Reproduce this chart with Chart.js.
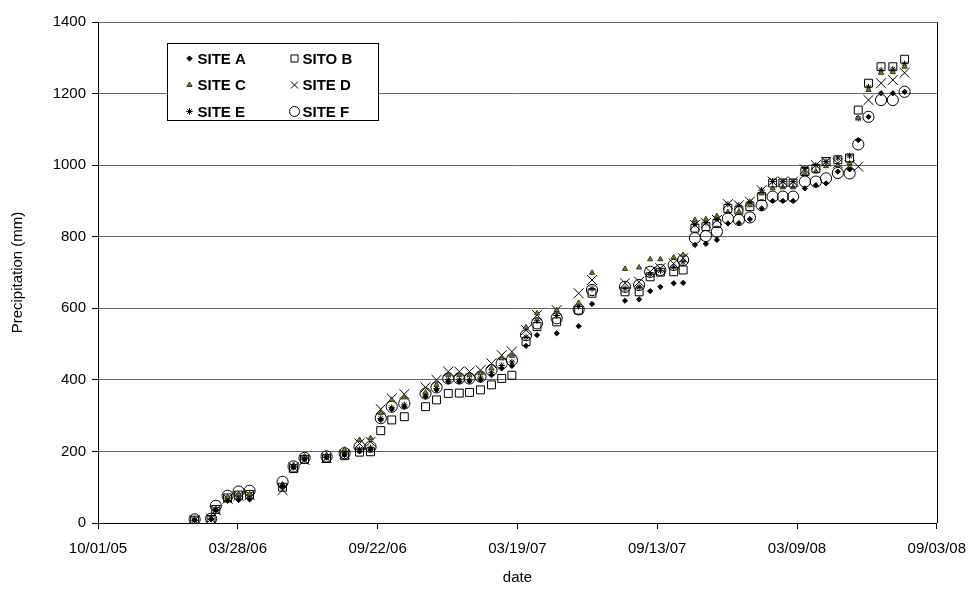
<!DOCTYPE html>
<html>
<head>
<meta charset="utf-8">
<script src="https://cdn.jsdelivr.net/npm/chart.js@4.4.1/dist/chart.umd.min.js"></script>
<style>
  html, body { margin: 0; padding: 0; background: #fff; }
  #wrap { width: 977px; height: 590px; }
</style>
</head>
<body>
<div id="wrap"><canvas id="chart"></canvas></div>
<script>
// sampling dates (MM/DD/YY)
const dates = [
  "02/01/06", "02/22/06", "02/28/06", "03/15/06", "03/29/06", "04/12/06", "05/24/06", "06/07/06",
  "06/21/06", "07/19/06", "08/11/06", "08/30/06", "09/13/06", "09/26/06", "10/10/06", "10/26/06",
  "11/22/06", "12/06/06", "12/21/06", "01/04/07", "01/17/07", "01/31/07", "02/14/07", "02/27/07",
  "03/12/07", "03/30/07", "04/13/07", "05/08/07", "06/05/07", "06/22/07", "08/03/07", "08/21/07",
  "09/04/07", "09/17/07", "10/04/07", "10/16/07", "10/31/07", "11/14/07", "11/28/07", "12/12/07",
  "12/26/07", "01/09/08", "01/24/08", "02/07/08", "02/20/08", "03/04/08", "03/19/08", "04/02/08",
  "04/15/08", "04/30/08", "05/15/08", "05/26/08", "06/08/08", "06/24/08", "07/09/08", "07/24/08"
];

// cumulative precipitation (mm)
const siteA = [8, 10, 36, 62, 64, 66, 104, 155, 178, 183, 190, 200, 205, 288, 318, 325,
  353, 372, 395, 395, 397, 400, 413, 432, 439, 495, 525, 530, 550, 612, 621, 625,
  648, 660, 670, 671, 777, 780, 791, 837, 838, 849, 879, 900, 900, 900, 935, 944,
  949, 982, 988, 1070, 1135, 1201, 1201, 1205];
const siteB = [8, 10, 38, 70, 78, 80, 100, 152, 178, 180, 188, 198, 199, 258, 288, 297,
  325, 344, 362, 363, 365, 372, 386, 404, 413, 507, 549, 562, 595, 642, 646, 646,
  688, 701, 702, 707, 824, 828, 837, 879, 874, 884, 912, 950, 950, 950, 982, 991,
  1010, 1015, 1020, 1154, 1229, 1275, 1275, 1296];
const siteC = [10, 14, 40, 72, 80, 80, 108, 162, 186, 190, 205, 232, 237, 307, 344, 351,
  365, 386, 414, 414, 414, 418, 432, 460, 467, 547, 586, 595, 615, 699, 710, 714,
  737, 737, 742, 749, 847, 849, 858, 869, 870, 888, 921, 935, 938, 938, 977, 982,
  997, 1000, 1005, 1131, 1210, 1258, 1260, 1275];
const siteD = [8, 12, 36, 68, 76, 78, 92, 156, 176, 182, 192, 222, 227, 318, 348, 360,
  379, 400, 423, 423, 423, 427, 446, 469, 479, 539, 581, 595, 642, 679, 670, 674,
  702, 712, 725, 740, 833, 838, 847, 891, 888, 898, 930, 954, 954, 954, 988, 1000,
  1010, 1005, 1000, 996, 1182, 1229, 1238, 1258];
const siteE = [8, 12, 38, 70, 78, 80, 100, 158, 180, 184, 195, 205, 210, 292, 322, 330,
  358, 376, 400, 400, 400, 405, 420, 440, 450, 520, 565, 580, 605, 655, 655, 660,
  695, 705, 715, 730, 835, 840, 850, 891, 888, 898, 930, 954, 954, 954, 991, 1000,
  1010, 1020, 1026, 1131, 1218, 1265, 1268, 1283];
const siteF = [10, 12, 48, 76, 88, 90, 115, 158, 182, 186, 195, 213, 213, 293, 325, 334,
  362, 379, 404, 404, 404, 409, 427, 446, 455, 525, 558, 572, 597, 651, 660, 665,
  702, 707, 721, 735, 796, 802, 814, 851, 847, 854, 888, 912, 912, 912, 954, 954,
  963, 978, 977, 1058, 1135, 1182, 1182, 1205];

const seriesNames = ["SITE A", "SITO B", "SITE C", "SITE D", "SITE E", "SITE F"];

// x axis: days since 10/01/05, ticks every 178 days
const axisStart = "10/01/05";
const axisEnd = "09/03/08";
const tickStep = 178;

function toUTC(s) {
  const [m, d, y] = s.split("/").map(Number);
  return Date.UTC(2000 + y, m - 1, d);
}
const DAY = 86400000;
function dayNum(s) { return Math.round((toUTC(s) - toUTC(axisStart)) / DAY); }
function dayLabel(n) {
  const dt = new Date(toUTC(axisStart) + n * DAY);
  const p = v => String(v).padStart(2, "0");
  return p(dt.getUTCMonth() + 1) + "/" + p(dt.getUTCDate()) + "/" + p(dt.getUTCFullYear() % 100);
}

function pts(vals) {
  return vals.map((v, i) => ({ x: dayNum(dates[i]), y: v }));
}

const styles = [
  { pointStyle: "rectRot", pointRadius: 2.6, backgroundColor: "#000", borderColor: "#000" },
  { pointStyle: "rect", pointRadius: 5.6, backgroundColor: "rgba(0,0,0,0)", borderColor: "#000" },
  { pointStyle: "triangle", pointRadius: 3, backgroundColor: "#808000", borderColor: "#333" },
  { pointStyle: "crossRot", pointRadius: 7, backgroundColor: "#000", borderColor: "#000" },
  { pointStyle: "star", pointRadius: 3.2, backgroundColor: "#000", borderColor: "#000" },
  { pointStyle: "circle", pointRadius: 5.6, backgroundColor: "rgba(0,0,0,0)", borderColor: "#000" }
];
const values = [siteA, siteB, siteC, siteD, siteE, siteF];

const datasets = values.map((vals, i) => Object.assign({
  label: seriesNames[i],
  data: pts(vals),
  showLine: false,
  borderWidth: 1,
  pointBorderWidth: 1,
  pointHoverRadius: 4
}, styles[i]));

// two-column boxed legend inside the plot, plus right border of plot
const boxLegend = {
  id: "boxLegend",
  afterDraw(chart) {
    const ctx = chart.ctx;
    const a = chart.chartArea;
    ctx.save();
    ctx.strokeStyle = "#000";
    ctx.lineWidth = 1;
    ctx.beginPath();
    ctx.moveTo(Math.round(a.right) + 0.5, a.top);
    ctx.lineTo(Math.round(a.right) + 0.5, a.bottom);
    ctx.stroke();

    const bx = 167.5, by = 43.5, bw = 211, bh = 77;
    ctx.fillStyle = "#fff";
    ctx.fillRect(bx, by, bw, bh);
    ctx.strokeRect(bx, by, bw, bh);
    ctx.font = "bold 15px 'Liberation Sans', Arial, sans-serif";
    ctx.textBaseline = "middle";
    ctx.textAlign = "left";
    chart.data.datasets.forEach((ds, i) => {
      const col = i % 2, row = Math.floor(i / 2);
      const mx = bx + 22 + col * 105;
      const my = by + 15 + row * 26.5;
      ctx.fillStyle = ds.backgroundColor;
      ctx.strokeStyle = ds.borderColor;
      ctx.lineWidth = 1;
      Chart.helpers.drawPoint(ctx, {
        pointStyle: ds.pointStyle,
        radius: Math.min(ds.pointRadius, 5),
        borderWidth: 1,
        rotation: 0
      }, mx, my);
      ctx.fillStyle = "#000";
      ctx.fillText(ds.label, mx + 8, my + 1);
    });
    ctx.restore();
  }
};

const font = { family: "'Liberation Sans', Arial, sans-serif", size: 15 };

new Chart(document.getElementById("chart"), {
  type: "scatter",
  data: { datasets: datasets },
  options: {
    responsive: true,
    maintainAspectRatio: false,
    animation: false,
    layout: { padding: { top: 22, right: 39, left: 0, bottom: 0 } },
    plugins: {
      legend: { display: false },
      tooltip: { enabled: false }
    },
    scales: {
      x: {
        type: "linear",
        min: dayNum(axisStart),
        max: dayNum(axisEnd),
        afterFit: s => { s.height = 67; },
        afterBuildTicks: s => {
          s.ticks = [];
          for (let v = s.min; v <= s.max; v += tickStep) s.ticks.push({ value: v });
        },
        ticks: {
          color: "#000",
          font: font,
          padding: 11,
          maxRotation: 0,
          callback: v => dayLabel(v)
        },
        grid: { drawOnChartArea: false, tickLength: 6, color: "#000", tickColor: "#000" },
        border: { color: "#000", width: 1 },
        title: { display: true, text: "date", color: "#000", font: font, padding: { top: 4, bottom: 3 } }
      },
      y: {
        min: 0,
        max: 1400,
        afterFit: s => { s.width = 98; },
        ticks: { stepSize: 200, color: "#000", font: font, padding: 6, callback: v => String(v) },
        grid: { color: "#666", tickColor: "#000", tickLength: 6 },
        border: { color: "#000", width: 1 },
        title: { display: true, text: "Precipitation (mm)", color: "#000", font: font, padding: { top: 9, bottom: 4 } }
      }
    }
  },
  plugins: [boxLegend]
});
</script>
</body>
</html>
